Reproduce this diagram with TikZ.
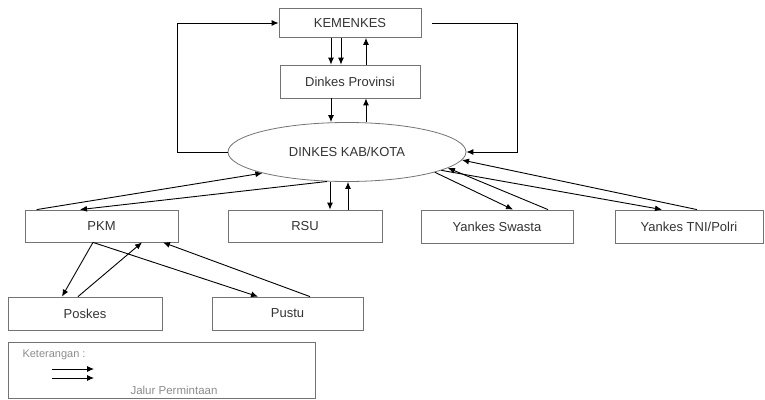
\documentclass[tikz,border=0pt]{standalone}
\usepackage{fontspec}
\setmainfont{Liberation Sans}
\usetikzlibrary{shapes.geometric,arrows.meta}
\begin{document}
\begin{tikzpicture}[x=1pt,y=-1pt,>={Latex[length=7pt,width=6pt]},
        box/.style={draw=black!55,line width=0.8pt,rectangle,inner sep=0pt,
                    minimum height=32pt,text=black!80},
        link/.style={->,line width=0.9pt}]
                \useasboundingbox (0,0) rectangle (765,399);
                \fontsize{13}{15}\selectfont
                \node[box,minimum width=142pt,minimum height=29pt] (KM) at (350,23)    {KEMENKES};
                \node[box,minimum width=140pt,minimum height=33pt] (DP) at (350,81.5)  {Dinkes Provinsi};
                \node[draw=black!55,line width=0.8pt,ellipse,inner sep=0pt,text=black!80,
                      minimum width=238pt,minimum height=59pt]     (DK) at (347,152)   {DINKES KAB/KOTA};
                \node[box,minimum width=153pt] (PKM) at (101.5,226) {PKM};
                \node[box,minimum width=154pt] (RSU) at (305,226)   {RSU};
                \node[box,minimum width=152pt,minimum height=33pt] (YS) at (497,226.5) {Yankes Swasta};
                \node[box,minimum width=148pt,minimum height=33pt] (YT) at (689,226.5) {Yankes TNI/Polri};
                \node[box,minimum width=154pt,minimum height=33pt] (PK) at (85,313.5)  {Poskes};
                \node[box,minimum width=151pt,minimum height=33pt] (PU) at (287.5,313.5) {Pustu};

                % keterangan
                \node[box,minimum width=307pt,minimum height=56pt] (KT) at (161.5,370) {};
                \node[anchor=west,text=black!45,font=\fontsize{11}{13}\selectfont] (KTt) at (18,355) {Keterangan :};
                \node[text=black!45,font=\fontsize{11.5}{13}\selectfont] (JP) at (174,390) {Jalur Permintaan};
                \coordinate (L1) at (52,369);
                \coordinate (L2) at (94,369);
                \coordinate (L3) at (52,378);
                \coordinate (L4) at (94,378);
                \draw [link] (L1) -- (L2);
                \draw [link] (L3) -- (L4);

                % pusat - provinsi - kab/kota
                \draw [link] ([xshift=-19pt]KM.south) -- ([xshift=-19pt]DP.north);
                \draw [link] ([xshift=-9pt]KM.south)  -- ([xshift=-9pt]DP.north);
                \draw [link] ([xshift=16pt]DP.north)  -- ([xshift=16pt]KM.south);
                \draw [link] ([xshift=-19pt]DP.south) -- ([xshift=-19pt]DP.south |- DK.north);
                \draw [link] ([xshift=16pt]DP.south |- DK.north) -- ([xshift=16pt]DP.south);
                \draw [link] (DK.west) -- ++(-50,0) |- (KM.west);
                \draw [link] ([xshift=11pt]KM.east) -- ++(85,0) |- (DK.east);

                % kab/kota - faskes
                \draw [link] ([xshift=12pt]PKM.north west) -- (DK.194);
                \draw [link] (DK.236) -- ([xshift=-21.5pt]PKM.north);
                \draw [link] ([xshift=25pt]RSU.north |- DK.south) -- ([xshift=25pt]RSU.north);
                \draw [link] ([xshift=43pt]RSU.north) -- ([xshift=43pt]RSU.north |- DK.south);
                \draw [link] (DK.347) -- ([xshift=16pt]YS.north);
                \draw [link] ([xshift=51pt]YS.north) -- (DK.351);
                \draw [link] (DK.349) -- ([xshift=-27pt]YT.north);
                \draw [link] ([xshift=8pt]YT.north) -- (DK.356);

                % pkm - jaringan
                \draw [link] ([xshift=-8.5pt]PKM.south) -- ([xshift=-23pt]PK.north);
                \draw [link] ([xshift=-7pt]PK.north) -- ([xshift=40.5pt]PKM.south);
                \draw [link] ([xshift=-8.5pt]PKM.south) -- ([xshift=-29.5pt]PU.north);
                \draw [link] ([xshift=22.5pt]PU.north) -- ([xshift=61.5pt]PKM.south);
            \end{tikzpicture}
\end{document}
